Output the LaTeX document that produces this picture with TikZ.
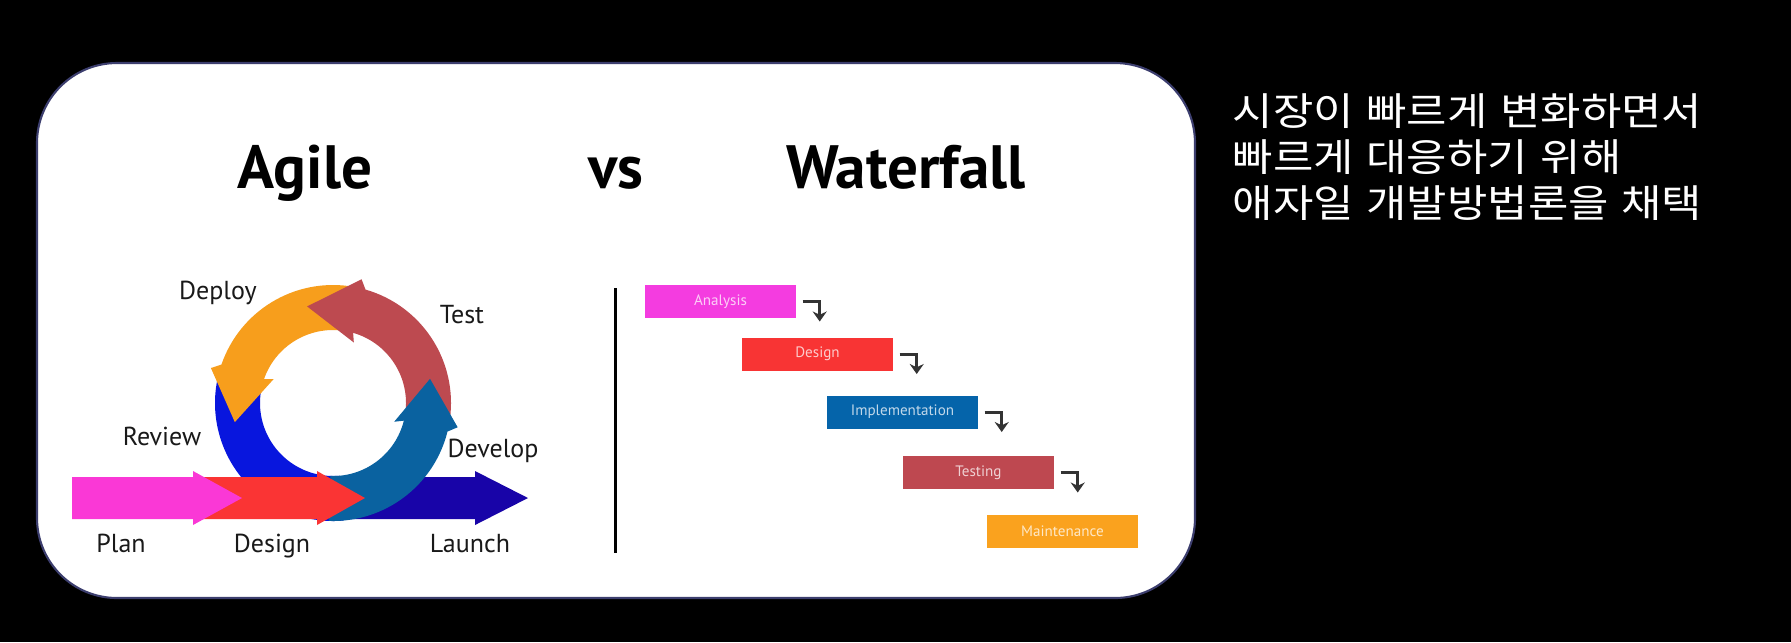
\documentclass[tikz,border=0pt]{standalone}
\usepackage{fontspec}
\setmainfont{PT Sans}
\newfontfamily\krfont[FakeStretch=1.14, WordSpace=1.3]{Noto Sans CJK KR}
\usetikzlibrary{arrows.meta}
\definecolor{frame}{RGB}{60,62,110}
\definecolor{bandpink}{RGB}{250,56,214}
\definecolor{bandred}{RGB}{250,52,52}
\definecolor{launchblue}{RGB}{24,4,168}
\definecolor{ringblue}{RGB}{8,22,222}
\definecolor{ringteal}{RGB}{10,98,160}
\definecolor{ringorange}{RGB}{247,158,28}
\definecolor{ringred}{RGB}{189,74,80}
\definecolor{wfpink}{RGB}{244,60,224}
\definecolor{wfred}{RGB}{248,52,52}
\definecolor{wfblue}{RGB}{5,100,170}
\definecolor{wfrose}{RGB}{190,72,80}
\definecolor{wforange}{RGB}{250,162,30}

% straight arrow of the agile band: colour, tail x, head x, tip x
\newcommand{\bandarrow}[4]{%
  \fill[#1] (#2,-477) -- (#3,-477) -- (#3,-471) -- (#4,-498)
    -- (#3,-525) -- (#3,-519) -- (#2,-519) -- cycle;}
% curved arrow of the agile ring: colour, tail angle, head angle, tip angle
\newcommand{\ringarrow}[4]{%
  \fill[#1] (#2:118) arc[start angle=#2, end angle=#3, radius=118]
    -- ({#3+3}:127) -- (#4:100) -- ({#3-3}:64) -- (#3:73)
    arc[start angle=#3, end angle=#2, radius=73] -- cycle;}

\begin{document}
\begin{tikzpicture}[
    x=0.1mm, y=0.1mm,
    ttl/.style={font=\fontsize{17.4}{20}\selectfont\bfseries,
        anchor=base, inner sep=0pt},
    lbl/.style={font=\fontsize{7.4}{9}\selectfont, anchor=base,
        inner sep=0pt, text=black!90},
    wfbox/.style={fill=#1, text=#1!25!white, minimum width=15.1mm,
        minimum height=3.3mm, inner sep=0pt,
        font=\fontsize{4.3}{5}\selectfont},
    steparrow/.style={draw=black!80, line width=0.85pt,
        -{Stealth[length=1mm,width=1.4mm]}},
    kr/.style={font=\krfont\fontsize{10.95}{13}\selectfont,
        text=white, anchor=base west, inner sep=0pt},
]

% ====== BACKGROUND ======
\fill[black] (0,0) rectangle (1791,-642);
\draw[draw=frame, line width=0.6pt, fill=white, rounded corners=8mm]
    (37,-63) rectangle (1195,-598);

% ====== TITLES ======
\node[ttl] (t-agile) at (305,-188) {Agile};
\node[ttl] (t-vs)    at (616,-188) {vs};
\node[ttl] (t-water) at (906,-188) {Waterfall};

% ====== LEFT: agile loop ======
\bandarrow{launchblue}{335}{475}{528}
\begin{scope}[shift={(333,-403)}]
    % Review
    \fill[ringblue] (165:118) arc[start angle=165, end angle=275, radius=118]
        -- (275:73) arc[start angle=275, end angle=165, radius=73] -- cycle;
    \ringarrow{ringorange}{82}{161}{191}  % Deploy
    \ringarrow{ringred}{-8}{74}{105}      % Test
    \ringarrow{ringteal}{268}{346}{374}   % Develop
\end{scope}
\bandarrow{bandred}{195}{317}{365}
\bandarrow{bandpink}{72}{193}{242}

\node[lbl] (l-deploy)  at (218,-299) {Deploy};
\node[lbl] (l-test)    at (462,-323) {Test};
\node[lbl] (l-review)  at (162,-445) {Review};
\node[lbl] (l-develop) at (493,-457) {Develop};
\node[lbl] (l-plan)    at (121,-552) {Plan};
\node[lbl] (l-design)  at (272,-552) {Design};
\node[lbl] (l-launch)  at (470,-552) {Launch};

% ====== RIGHT: waterfall steps ======
\draw[line width=0.85pt] (615,-288) -- (615,-553);

\foreach \nm/\cx/\cy/\col/\txt in {
    an/720.5/-301.5/wfpink/Analysis,
    ds/817.5/-354/wfred/Design,
    im/902.5/-412/wfblue/Implementation,
    ts/978.5/-472.5/wfrose/Testing,
    mt/1062.5/-531.5/wforange/Maintenance}
    \node[wfbox=\col] (\nm) at (\cx,\cy) {\txt};

\foreach \nm in {an, ds, im, ts}
    \draw[steparrow] ([shift={(6,0)}]\nm.east) -- ++(17,0) -- ++(0,-20);

% ====== Korean note ======
\node[kr] (kr1) at (1232,-125) {시장이 빠르게 변화하면서};
\node[kr] (kr2) at (1232,-171) {빠르게 대응하기 위해};
\node[kr] (kr3) at (1232,-217) {애자일 개발방법론을 채택};

\end{tikzpicture}
\end{document}
